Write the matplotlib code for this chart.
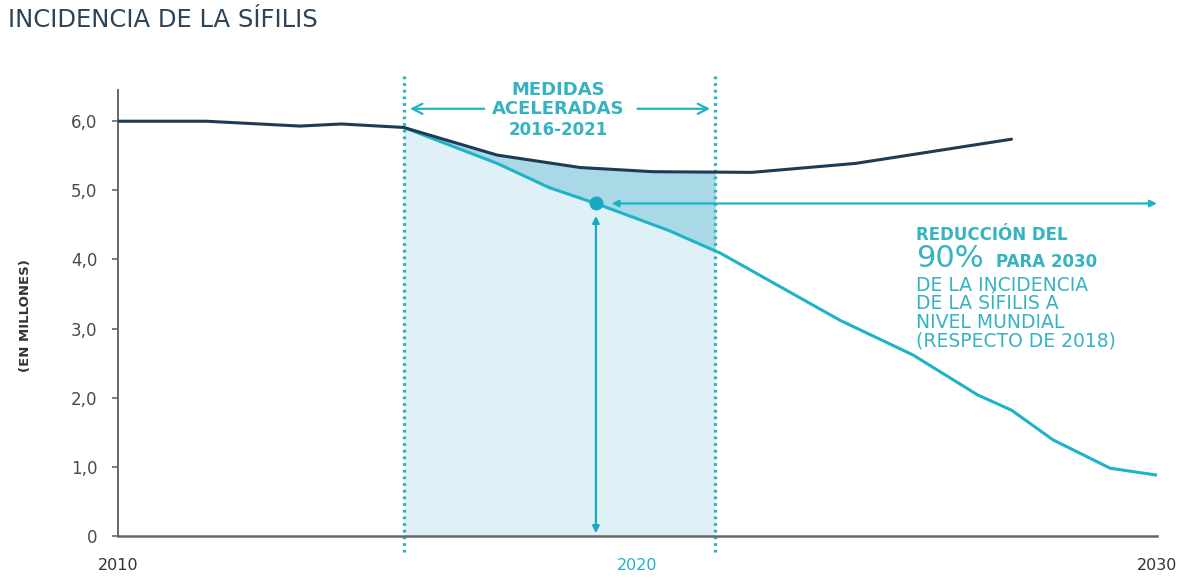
import numpy as np
import matplotlib
matplotlib.use("Agg")
import matplotlib.pyplot as plt

# Incidence of syphilis (millions)
years_base = [2010, 2011.7, 2013.5, 2014.3, 2015.5, 2017.3, 2018.9, 2020.3, 2022.2, 2024.2, 2027.2]
base = [6.0, 6.0, 5.93, 5.96, 5.91, 5.51, 5.33, 5.27, 5.26, 5.39, 5.74]

years_target = [2015.5, 2017.3, 2018.3, 2019.2, 2020.6, 2021.6, 2023.9, 2025.3, 2026.55, 2027.2, 2028.0, 2029.1, 2030]
target = [5.91, 5.39, 5.04, 4.81, 4.42, 4.09, 3.12, 2.62, 2.04, 1.82, 1.39, 0.98, 0.88]

ref_year = 2019.2
ref_value = 4.81
period = (2015.5, 2021.5)

yticks = [0, 1, 2, 3, 4, 5, 6]
ytick_labels = ["0", "1,0", "2,0", "3,0", "4,0", "5,0", "6,0"]
xticks = [2010, 2020, 2030]

NAVY = "#1d3b54"
CYAN = "#1fb3c8"
TEAL = "#36b3c0"
LIGHT = "#dff0f7"
MID = "#a9d8e6"
GREY = "#666666"

plt.rcParams["font.family"] = ["DejaVu Sans"]

fig = plt.figure(figsize=(11.87, 5.79), dpi=100)
ax = fig.add_axes([0.0994, 0.0743, 0.8753, 0.7999])
ax.set_xlim(2010, 2030)
ax.set_ylim(0, 6.7)

# shaded period
grid = np.linspace(period[0], period[1], 200)
b_i = np.interp(grid, years_base, base)
t_i = np.interp(grid, years_target, target)
ax.fill_between(grid, 0, t_i, color=LIGHT, lw=0, zorder=1)
ax.fill_between(grid, t_i, b_i, color=MID, lw=0, zorder=1)

for xv in period:
    ax.axvline(xv, ymin=-0.035, ymax=1.0, color="#2fb2bb", lw=2.4,
               linestyle=(0, (0.8, 1.2)), clip_on=False, zorder=2)

ax.plot(years_base, base, color=NAVY, lw=2.2, zorder=4, solid_capstyle="round")
ax.plot(years_target, target, color=CYAN, lw=2.2, zorder=3, solid_capstyle="round")
ax.plot([ref_year], [ref_value], "o", color="#17aac0", ms=9, zorder=5)

# arrows from reference point
ax.annotate("", xy=(2030, ref_value), xytext=(2019.5, ref_value),
            arrowprops=dict(arrowstyle="<|-|>", color=CYAN, lw=1.6,
                            mutation_scale=10, shrinkA=0, shrinkB=0), zorder=5)
ax.annotate("", xy=(ref_year, 0.04), xytext=(ref_year, 4.63),
            arrowprops=dict(arrowstyle="<|-|>", color="#19a9c0", lw=1.6,
                            mutation_scale=10, shrinkA=0, shrinkB=0), zorder=5)

# period label
ax.text(2018.48, 6.45, "MEDIDAS", ha="center", va="center", color=TEAL,
        fontsize=13, fontweight="bold")
ax.text(2018.48, 6.17, "ACELERADAS", ha="center", va="center", color=TEAL,
        fontsize=13, fontweight="bold")
ax.text(2018.48, 5.87, "2016-2021", ha="center", va="center", color=TEAL,
        fontsize=12, fontweight="bold")
ax.annotate("", xy=(2015.62, 6.18), xytext=(2017.05, 6.18),
            arrowprops=dict(arrowstyle="->", color=CYAN, lw=1.6, mutation_scale=18,
                            shrinkA=0, shrinkB=0))
ax.annotate("", xy=(2021.4, 6.18), xytext=(2020.0, 6.18),
            arrowprops=dict(arrowstyle="->", color=CYAN, lw=1.6, mutation_scale=18,
                            shrinkA=0, shrinkB=0))

# goal text
tx = 2025.36
ax.text(tx, 4.35, "REDUCCIÓN DEL", color=TEAL, fontsize=12, fontweight="bold",
        va="center", ha="left")
ax.text(tx, 3.89, "90%", color=TEAL, fontsize=22, va="baseline", ha="left")
ax.text(2026.9, 3.89, "PARA 2030", color=TEAL, fontsize=12, fontweight="bold",
        va="baseline", ha="left")
for yv, line in zip([3.63, 3.37, 3.09, 2.82],
                    ["DE LA INCIDENCIA", "DE LA SÍFILIS A", "NIVEL MUNDIAL",
                     "(RESPECTO DE 2018)"]):
    ax.text(tx, yv, line, color=TEAL, fontsize=13.5, va="center", ha="left")

# axes styling
for s in ["top", "right"]:
    ax.spines[s].set_visible(False)
ax.spines["left"].set_color(GREY)
ax.spines["bottom"].set_color(GREY)
ax.spines["left"].set_linewidth(1.4)
ax.spines["bottom"].set_linewidth(1.8)
ax.spines["left"].set_bounds(0, 6.45)

ax.set_yticks(yticks)
ax.set_yticklabels(ytick_labels)
ax.tick_params(axis="y", length=4, width=1.2, color=GREY, pad=11,
               labelsize=12, labelcolor="#4a4a4a")
ax.set_xticks(xticks)
ax.set_xticklabels([str(x) for x in xticks])
ax.tick_params(axis="x", length=0, pad=16, labelsize=11.5, labelcolor="#333333")
ax.get_xticklabels()[1].set_color(CYAN)
ax.set_xticks([2020], minor=True)
ax.tick_params(axis="x", which="minor", length=6, width=1.2, color=GREY, direction="out")

ax.set_ylabel("(EN MILLONES)", fontsize=9.5, fontweight="bold", color="#333333")
ax.yaxis.set_label_coords(-0.083, 0.476)

fig.text(0.007, 0.965, "INCIDENCIA DE LA SÍFILIS", fontsize=17.5, color="#2c4457",
         va="center", ha="left")

fig.savefig("out.png", dpi=100, facecolor="white")
